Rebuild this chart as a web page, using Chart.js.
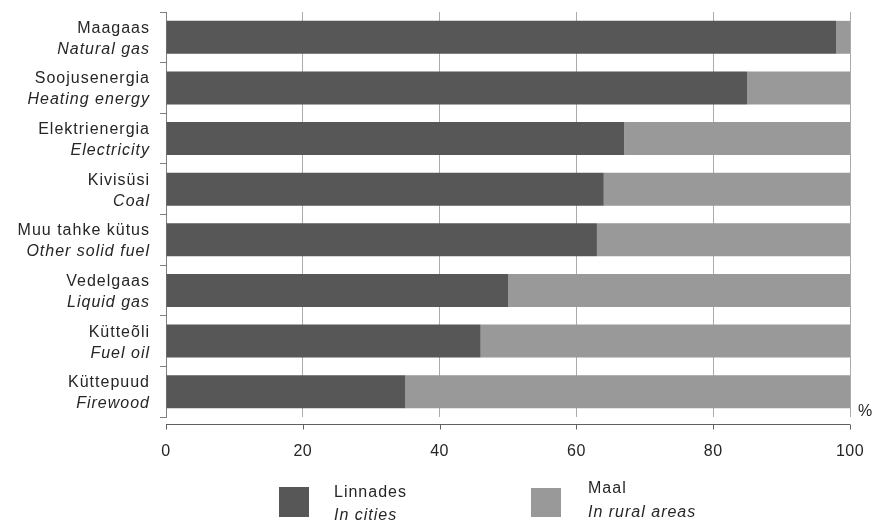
<!DOCTYPE html>
<html>
<head>
<meta charset="utf-8">
<script src="https://cdn.jsdelivr.net/npm/chart.js@4"></script>
<style>
  html, body { margin: 0; padding: 0; background: #ffffff; }
  #wrap { width: 877px; height: 525px; position: relative; }
</style>
</head>
<body>
<div id="wrap"><canvas id="c" width="877" height="525"></canvas></div>
<script>
// ---- data ----
const labelsEt = ['Maagaas', 'Soojusenergia', 'Elektrienergia', 'Kivisüsi', 'Muu tahke kütus', 'Vedelgaas', 'Kütteõli', 'Küttepuud'];
const labelsEn = ['Natural gas', 'Heating energy', 'Electricity', 'Coal', 'Other solid fuel', 'Liquid gas', 'Fuel oil', 'Firewood'];
const inCities = [98, 85, 67, 64, 63, 50, 46, 35];
const inRural  = [2, 15, 33, 36, 37, 50, 54, 65];
const xTicks = [0, 20, 40, 60, 80, 100];
const seriesEt = ['Linnades', 'Maal'];
const seriesEn = ['In cities', 'In rural areas'];
const unitLabel = '%';

const FONT = '"Liberation Sans", Arial, sans-serif';
const TEXT = '#262626';
const DARK = '#575757';
const LIGHT = '#999999';

const decor = {
  id: 'decor',
  beforeDraw(chart) {
    chart.ctx.letterSpacing = '0.5px';
  },
  afterDraw(chart) {
    const ctx = chart.ctx;
    const xs = chart.scales.x, ys = chart.scales.y;
    const area = chart.chartArea;
    ctx.save();
    ctx.letterSpacing = '1px';
    // category labels (two lines, second italic)
    ctx.fillStyle = TEXT;
    ctx.textAlign = 'right';
    ctx.textBaseline = 'alphabetic';
    for (let i = 0; i < labelsEt.length; i++) {
      const cy = ys.getPixelForValue(i);
      ctx.font = '16px ' + FONT;
      ctx.fillText(labelsEt[i], 150, cy - 4.5);
      ctx.font = 'italic 16px ' + FONT;
      ctx.fillText(labelsEn[i], 150, cy + 16.5);
    }
    // separated x axis line
    const ay = Math.round(area.bottom + 7) + 0.5;
    ctx.strokeStyle = '#606060';
    ctx.lineWidth = 1;
    ctx.beginPath();
    ctx.moveTo(xs.getPixelForValue(xTicks[0]), ay);
    ctx.lineTo(xs.getPixelForValue(xTicks[xTicks.length - 1]), ay);
    for (const v of xTicks) {
      const px = Math.round(xs.getPixelForValue(v)) + 0.5;
      ctx.moveTo(px, ay);
      ctx.lineTo(px, ay + 5);
    }
    ctx.stroke();
    // unit
    ctx.font = '16px ' + FONT;
    ctx.textAlign = 'center';
    ctx.textBaseline = 'middle';
    ctx.letterSpacing = '0px';
    ctx.fillText(unitLabel, 865, area.bottom - 5);
    // legend
    const leg = [
      { box: [279, 487, 30, 30], tx: 334, b1: 497, b2: 520 },
      { box: [531, 488, 30, 29], tx: 588, b1: 493, b2: 517 }
    ];
    ctx.letterSpacing = '1px';
    ctx.textAlign = 'left';
    ctx.textBaseline = 'alphabetic';
    chart.data.datasets.forEach((ds, i) => {
      const L = leg[i];
      ctx.fillStyle = ds.backgroundColor;
      ctx.fillRect(L.box[0], L.box[1], L.box[2], L.box[3]);
      ctx.fillStyle = TEXT;
      ctx.font = '16px ' + FONT;
      ctx.fillText(seriesEt[i], L.tx, L.b1);
      ctx.font = 'italic 16px ' + FONT;
      ctx.fillText(seriesEn[i], L.tx, L.b2);
    });
    ctx.restore();
  }
};

new Chart(document.getElementById('c'), {
  type: 'bar',
  data: {
    labels: labelsEt,
    datasets: [
      { label: seriesEt[0], data: inCities, backgroundColor: DARK, barPercentage: 0.65, categoryPercentage: 1 },
      { label: seriesEt[1], data: inRural, backgroundColor: LIGHT, barPercentage: 0.65, categoryPercentage: 1 }
    ]
  },
  options: {
    indexAxis: 'y',
    responsive: false,
    animation: false,
    layout: { padding: { top: 12, right: 27, left: 0, bottom: 0 } },
    plugins: { legend: { display: false }, tooltip: { enabled: false } },
    scales: {
      x: {
        stacked: true,
        min: 0, max: 100,
        afterBuildTicks: (s) => { s.ticks = xTicks.map(v => ({ value: v })); },
        ticks: { font: { size: 16, family: FONT }, color: TEXT, padding: 25, maxRotation: 0 },
        grid: {
          color: (c) => (c.tick && c.tick.value === 0) ? 'rgba(0,0,0,0)' : '#ababab',
          drawTicks: false, lineWidth: 1
        },
        border: { display: false },
        afterFit: (s) => { s.height = 108; s.paddingRight = 0; s.paddingLeft = 0; }
      },
      y: {
        stacked: true,
        ticks: { display: false },
        grid: { offset: true, drawOnChartArea: false, drawTicks: true, tickLength: 6, color: '#808080' },
        border: { display: true, color: '#808080' },
        afterFit: (s) => { s.width = 166; s.paddingTop = 0; s.paddingBottom = 0; }
      }
    }
  },
  plugins: [decor]
});
</script>
</body>
</html>
